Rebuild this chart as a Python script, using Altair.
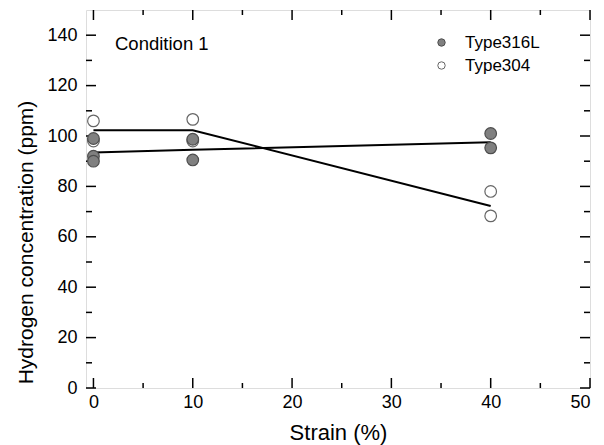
import altair as alt
import pandas as pd

# ---- data ----
strain_316L = [0, 0, 0, 10, 10, 40, 40]
h_316L = [99, 92, 90, 98.7, 90.5, 101, 95.3]
strain_304 = [0, 0, 10, 10, 40, 40]
h_304 = [106, 98, 106.6, 98, 78, 68.3]

line_strain = [0, 10, 40]
line_316L = [93.5, 94.5, 97.5]
line_304 = [102.3, 102.3, 72.2]

x_major = [0, 10, 20, 30, 40, 50]
x_minor = [5, 15, 25, 35, 45]
y_major = [0, 20, 40, 60, 80, 100, 120, 140]
y_minor = [10, 30, 50, 70, 90, 110, 130]

types = ["Type316L", "Type304"]

W, H = 504, 378
FONT = "Liberation Sans"

pts = pd.concat([
    pd.DataFrame({"strain": strain_304, "h": h_304, "type": "Type304", "order": 0}),
    pd.DataFrame({"strain": strain_316L, "h": h_316L, "type": "Type316L", "order": 1}),
])
lines = pd.concat([
    pd.DataFrame({"strain": line_strain, "h": line_316L, "series": "Type316L"}),
    pd.DataFrame({"strain": line_strain, "h": line_304, "series": "Type304"}),
])

xs = alt.Scale(domain=[-0.75, 50], nice=False, zero=False)
ys = alt.Scale(domain=[0, 150], nice=False)

xaxis = alt.Axis(values=x_major, format="d", grid=False, ticks=False, tickSize=0, domain=False,
                 labelFontSize=18, labelFont=FONT, labelColor="black", labelPadding=5,
                 title="Strain (%)", titleFontSize=22, titleFont=FONT, titleFontWeight="normal",
                 titleColor="black", titleBaseline="alphabetic", titleY=51)
yaxis = alt.Axis(values=y_major, format="d", grid=False, ticks=False, tickSize=0, domain=False,
                 labelFontSize=18, labelFont=FONT, labelColor="black", labelPadding=9,
                 title="Hydrogen concentration (ppm)", titleFontSize=21, titleFont=FONT,
                 titleFontWeight="normal", titleColor="black", titleBaseline="alphabetic",
                 titleX=-54, titleY=232, titleAngle=-90)

base_lines = alt.Chart(lines).mark_line(color="black", strokeWidth=2).encode(
    x=alt.X("strain:Q", scale=xs, axis=xaxis),
    y=alt.Y("h:Q", scale=ys, axis=yaxis),
    detail="series:N",
)

legend_cfg = dict(title=None, orient="none", legendX=347, legendY=24,
                  labelFontSize=17, labelFont=FONT, labelColor="black",
                  symbolSize=55, symbolType="circle", labelOffset=15,
                  rowPadding=5, padding=0, symbolStrokeWidth=1)

points = alt.Chart(pts).mark_circle(size=135, opacity=1, strokeWidth=1.2).encode(
    x=alt.X("strain:Q", scale=xs),
    y=alt.Y("h:Q", scale=ys),
    fill=alt.Fill("type:N", scale=alt.Scale(domain=types, range=["#808080", "#ffffff"]),
                  legend=alt.Legend(**legend_cfg)),
    stroke=alt.Stroke("type:N", scale=alt.Scale(domain=types, range=["#4d4d4d", "#666666"]),
                      legend=alt.Legend(**legend_cfg)),
    order="order:Q",
)

tick_style = dict(color="black", strokeWidth=1.5)

def yt(vals, x1, x2):
    return alt.Chart(pd.DataFrame({"v": vals})).mark_rule(**tick_style).encode(
        y=alt.Y("v:Q", scale=ys), x=alt.value(x1), x2=alt.value(x2))

def xt(vals, y1, y2):
    return alt.Chart(pd.DataFrame({"v": vals})).mark_rule(**tick_style).encode(
        x=alt.X("v:Q", scale=xs), y=alt.value(y1), y2=alt.value(y2))

ticks = [
    yt(y_major, 0, 10), yt(y_minor, 0, 6),
    yt(y_major, W, W - 10), yt(y_minor, W, W - 6),
    xt(x_major, H, H - 10), xt(x_minor, H, H - 5),
    xt(x_major, 0, 10), xt(x_minor, 0, 5),
]

label = alt.Chart(pd.DataFrame({"t": ["Condition 1"]})).mark_text(
    align="left", baseline="alphabetic", fontSize=18.5, font=FONT, color="black"
).encode(text="t:N", x=alt.value(29), y=alt.value(40))

chart = alt.layer(base_lines, *ticks, points, label).properties(
    width=W, height=H,
    autosize=alt.AutoSizeParams(type="none"),
    padding={"left": 86, "top": 10, "right": 14, "bottom": 57},
).configure_view(stroke="black", strokeWidth=2).configure(background="white")

chart.save("out.html", embed_options={"renderer": "svg", "actions": False})
